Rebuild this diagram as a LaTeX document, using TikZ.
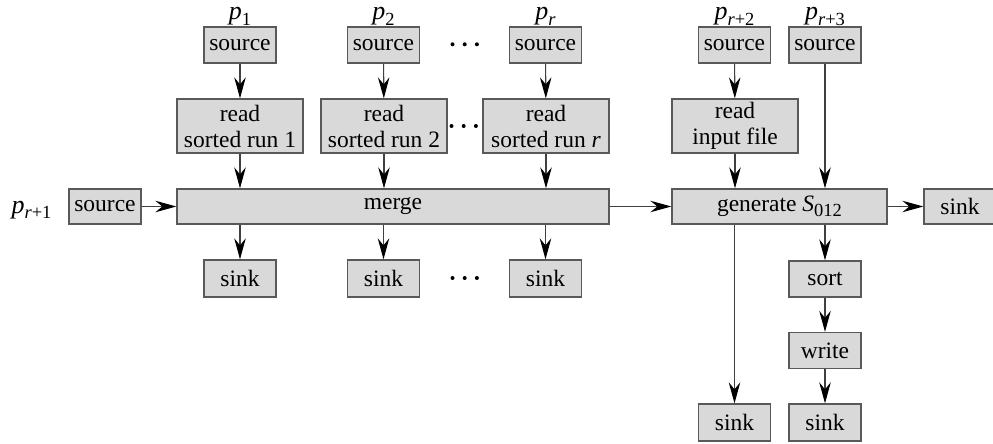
\documentclass[tikz,border=0pt]{standalone}
\usepackage{fontspec}
\setmainfont{Liberation Serif}
\usetikzlibrary{arrows.meta}
\newcommand\mysub[1]{\raisebox{-5.5pt}{\fontsize{18.5}{18.5}\selectfont #1}}
\newcommand\myp{{\fontsize{26}{26}\selectfont\textit{p}}}
\begin{document}
\begin{tikzpicture}[x=1pt,y=-1pt,
  box/.style={draw=black!65,fill=black!15,line width=1.3pt,inner sep=0pt,
    font=\fontsize{23.5}{26}\selectfont,align=center},
  sbox/.style={box,minimum width=72pt,minimum height=36pt},
  rbox/.style={box,minimum width=126pt,minimum height=54pt},
  lab/.style={font=\fontsize{23.5}{26}\selectfont,inner sep=0pt},
  arr/.style={draw=black!75,line width=1.1pt,-{Stealth[length=21pt,width=11.5pt,inset=7pt,black]}}]
\useasboundingbox (0,0) rectangle (993,444);
% sources
\node[sbox] (src1) at (240,45) {source};
\node[sbox] (src2) at (383.5,45) {source};
\node[sbox] (srcr) at (545.5,45) {source};
\node[sbox] (srcr2) at (734.5,45) {source};
\node[sbox] (srcr3) at (825,45) {source};
\node[sbox,minimum height=35pt] (srcr1) at (105,206.5) {source};
% labels
\node[lab,anchor=base] (l1) at (240,20) {\myp\mysub{1}};
\node[lab,anchor=base] (l2) at (383.5,20) {\myp\mysub{2}};
\node[lab,anchor=base] (lr) at (545.5,20) {\myp\mysub{\textit{r}}};
\node[lab,anchor=base] (lr2) at (734.5,20) {\myp\mysub{\textit{r}+2}};
\node[lab,anchor=base] (lr3) at (825,20) {\myp\mysub{\textit{r}+3}};
\node[lab,anchor=base] (lr1) at (31.5,213) {\myp\mysub{\textit{r}+1}};
% read boxes
\node[rbox] (read1) at (240,126) {read\\sorted run 1};
\node[rbox] (read2) at (384,126) {read\\sorted run 2};
\node[rbox] (readr) at (546,126) {read\\sorted run \textit{r}};
\node[rbox] (readin) at (735,126) {read\\input file};
% merge and generate
\node[box,minimum width=432pt,minimum height=35pt] (merge) at (393,206.5) {merge};
\node[box,minimum width=215pt,minimum height=35pt] (gen) at (779.5,206.5) {generate \textit{S}\mysub{012}};
% sinks
\node[sbox,minimum height=35pt] (sinkR) at (960,206.5) {sink};
\node[sbox,minimum height=37pt] (sink1) at (240,278.5) {sink};
\node[sbox,minimum height=37pt] (sink2) at (383.5,278.5) {sink};
\node[sbox,minimum height=37pt] (sinkr) at (545.5,278.5) {sink};
\node[sbox] (sort) at (825,279) {sort};
\node[sbox] (write) at (825,350.5) {write};
\node[sbox,minimum height=37pt] (sinkA) at (734.5,422.5) {sink};
\node[sbox,minimum height=37pt] (sinkB) at (825,422.5) {sink};
% dots
\foreach \y/\xs in {44.3/0, 126/-1, 278/0} {
  \foreach \dx in {-12.2,0,12.2} {
    \fill (464.7+\xs+\dx,\y) circle (2pt);
  }
}
% arrows
\draw[arr] (src1) -- (read1);
\draw[arr] (src2) -- (read2);
\draw[arr] (srcr) -- (readr);
\draw[arr] (srcr2) -- (readin);
\draw[arr] (read1) -- (read1 |- merge.north);
\draw[arr] (read2) -- (read2 |- merge.north);
\draw[arr] (readr) -- (readr |- merge.north);
\draw[arr] (readin) -- (readin |- gen.north);
\draw[arr] (srcr3) -- (srcr3 |- gen.north);
\draw[arr] (srcr1) -- (merge);
\draw[arr] (merge) -- (gen);
\draw[arr] (gen) -- (sinkR);
\draw[arr] (merge.south -| sink1) -- (sink1);
\draw[arr] (merge.south -| sink2) -- (sink2);
\draw[arr] (merge.south -| sinkr) -- (sinkr);
\draw[arr] (gen.south -| sinkA) -- (sinkA);
\draw[arr] (gen.south -| sort) -- (sort);
\draw[arr] (sort) -- (write);
\draw[arr] (write) -- (sinkB);
\end{tikzpicture}
\end{document}
